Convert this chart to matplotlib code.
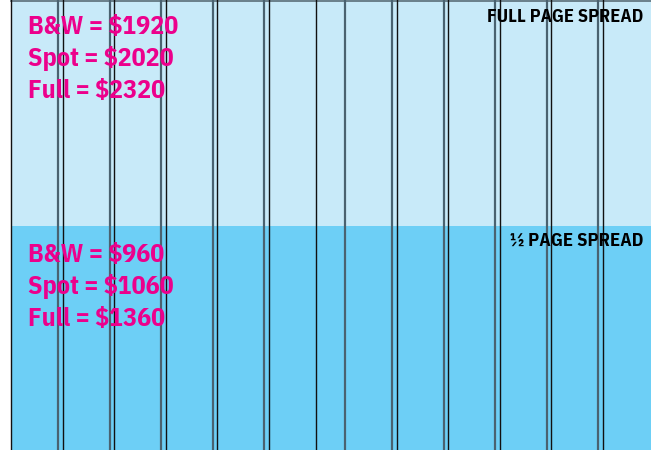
import matplotlib
matplotlib.use("Agg")
import matplotlib.pyplot as plt

# ---- data ----
sections = ["FULL PAGE SPREAD", "½ PAGE SPREAD"]
price_labels = ["B&W", "Spot", "Full"]
full_prices = [1920, 2020, 2320]
half_prices = [960, 1060, 1360]

# ---- layout ----
W, H = 651, 450
fig = plt.figure(figsize=(6.51, 4.5), dpi=100)
ax = fig.add_axes([0, 0, 1, 1])
ax.set_xlim(0, W)
ax.set_ylim(H, 0)
ax.axis("off")

fam = ["IBM Plex Sans Condensed", "Roboto Condensed", "DejaVu Sans"]

light = "#C8EAF9"
dark = "#6DCFF6"
magenta = "#EC008C"
split = 226
left0 = 11

ax.add_patch(plt.Rectangle((left0, 0), W - left0, split, color=light, lw=0))
ax.add_patch(plt.Rectangle((left0, split), W - left0, H - split, color=dark, lw=0))
ax.plot([left0, W], [1, 1], color="#5a6e78", lw=1.2)

colw, gut = 47.3, 4.2
pages = [11, 345]
for pi, p0 in enumerate(pages):
    for c in range(6):
        x0 = p0 + c * (colw + gut)
        x1 = x0 + colw
        if c == 0:
            col = "#111111" if pi == 0 else "#4a6270"
            lw = 1.0 if pi == 0 else 1.6
            ax.axvline(x0, color=col, lw=lw)
        if c < 5:
            ax.axvline(x1, color="#4a6270", lw=1.6)
            ax.axvline(x1 + gut, color="#111111", lw=1.0)
        elif pi == 0:
            ax.axvline(x1, color="#111111", lw=1.0)

def block(y0, prices):
    for i, (lab, v) in enumerate(zip(price_labels, prices)):
        ax.text(27.5, y0 + i * 31.7, f"{lab} = ${v}", color=magenta, fontsize=18.7,
                fontweight="bold", family=fam, va="baseline", ha="left")

block(34.3, full_prices)
block(262.3, half_prices)

ax.text(643, 22.5, sections[0], fontsize=13.2, fontweight="bold", family=fam,
        ha="right", va="baseline", color="black")
ax.text(643, 246.3, sections[1], fontsize=13.4, fontweight="bold", family=fam,
        ha="right", va="baseline", color="black")

fig.savefig("out.png", dpi=100, facecolor="white")
